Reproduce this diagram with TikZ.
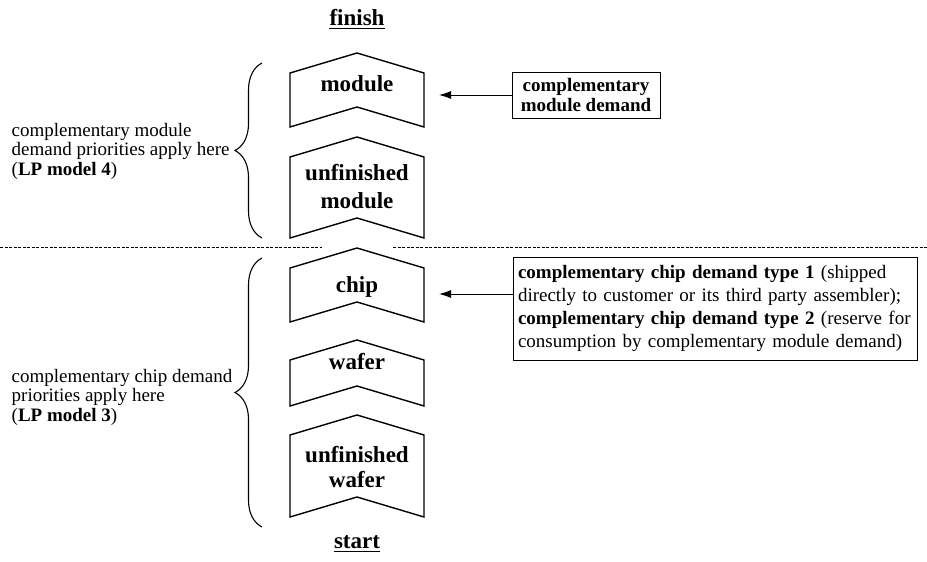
\documentclass[tikz,border=0pt]{standalone}
\usepackage{fontspec}
\setmainfont{Liberation Serif}
\usetikzlibrary{decorations.pathreplacing,arrows.meta}
\begin{document}
\begin{tikzpicture}[x=1pt,y=-1pt,
  chevbox/.style={minimum width=134pt,inner sep=0pt,outer sep=0pt},
  chev/.style={draw,line width=1.4pt,line join=miter},
  lbl/.style={font=\fontsize{23}{28}\selectfont\bfseries,align=center,inner sep=0pt},
  side/.style={font=\fontsize{19}{19.5}\selectfont,align=left,inner sep=0pt,anchor=north west},
  dbox/.style={draw,line width=1pt,inner xsep=5pt,inner ysep=0pt},
  brc/.style={decorate,decoration={brace,amplitude=27pt},line width=1.1pt},
  arr/.style={-{Latex[length=12pt,width=8pt]},line width=1pt},
  sep/.style={line width=0.8pt,dash pattern=on 3pt off 1.5pt},
  ul/.style={line width=1.6pt}]
\useasboundingbox (0,0) rectangle (927,562);

% finish / start
\node[lbl,anchor=base] (finish) at (357,25) {finish};
\draw[ul] ([yshift=-3.5pt]finish.base west) -- ([yshift=-3.5pt]finish.base east);
\node[lbl,anchor=base] (start) at (357,548) {start};
\draw[ul] ([yshift=-3.5pt]start.base west) -- ([yshift=-3.5pt]start.base east);

% chevrons
\node[chevbox,minimum height=74pt] (module) at (357,90) {};
\node[chevbox,minimum height=101pt] (umodule) at (357,187.5) {};
\node[chevbox,minimum height=74pt] (chip) at (357,285) {};
\node[chevbox,minimum height=66pt] (wafer) at (357,373) {};
\node[chevbox,minimum height=102pt] (uwafer) at (357,466) {};
\foreach \n in {module,umodule,chip,wafer,uwafer}{
  \draw[chev] ([yshift=-20pt]\n.north west) -- (\n.north) -- ([yshift=-20pt]\n.north east)
    -- (\n.south east) -- ([yshift=20pt]\n.south) -- (\n.south west) -- cycle;
}
\node[lbl,anchor=base] (tmodule) at (357,91) {module};
\node[lbl,anchor=north,font=\fontsize{23}{28}\selectfont\bfseries] (tumodule) at (357,164) {unfinished\\module};
\node[lbl,anchor=base] (tchip) at (357,292) {chip};
\node[lbl,anchor=base] (twafer) at (357,369) {wafer};
\node[lbl,anchor=north,font=\fontsize{23}{25}\selectfont\bfseries] (tuwafer) at (357,446) {unfinished\\wafer};

% separator
\draw[sep] (0,247) -- (322,247);
\draw[sep] (393,247) -- (927,247);

% braces
\draw[brc] (262,238) -- (262,63);
\draw[brc] (262,527) -- (262,258);

% left texts
\node[side] (lp4) at (11.5,123) {complementary module\\demand priorities apply here\\(\textbf{LP model 4})};
\node[side] (lp3) at (11.5,369) {complementary chip demand\\priorities apply here\\(\textbf{LP model 3})};

% right boxes
\node[dbox,minimum width=148pt,minimum height=46pt,align=center,
      font=\fontsize{19}{20}\selectfont\bfseries] (cmd) at (586,95)
      {complementary\\module demand};
\node[dbox,minimum width=404pt,minimum height=103pt,text width=394pt,align=left,
      font=\fontsize{19}{23}\selectfont] (ccd) at (715,308.5)
      {\textbf{complementary chip demand type 1} (shipped\\
       directly to customer or its third party assembler);\\
       \textbf{complementary chip demand type 2} (reserve for\\
       consumption by complementary module demand)};

% arrows
\draw[arr,shorten >=15pt] (cmd.west) -- (cmd.west -| module.east);
\draw[arr,shorten >=15pt] (ccd.west |- 0,294) -- (chip.east |- 0,294);
\end{tikzpicture}
\end{document}
